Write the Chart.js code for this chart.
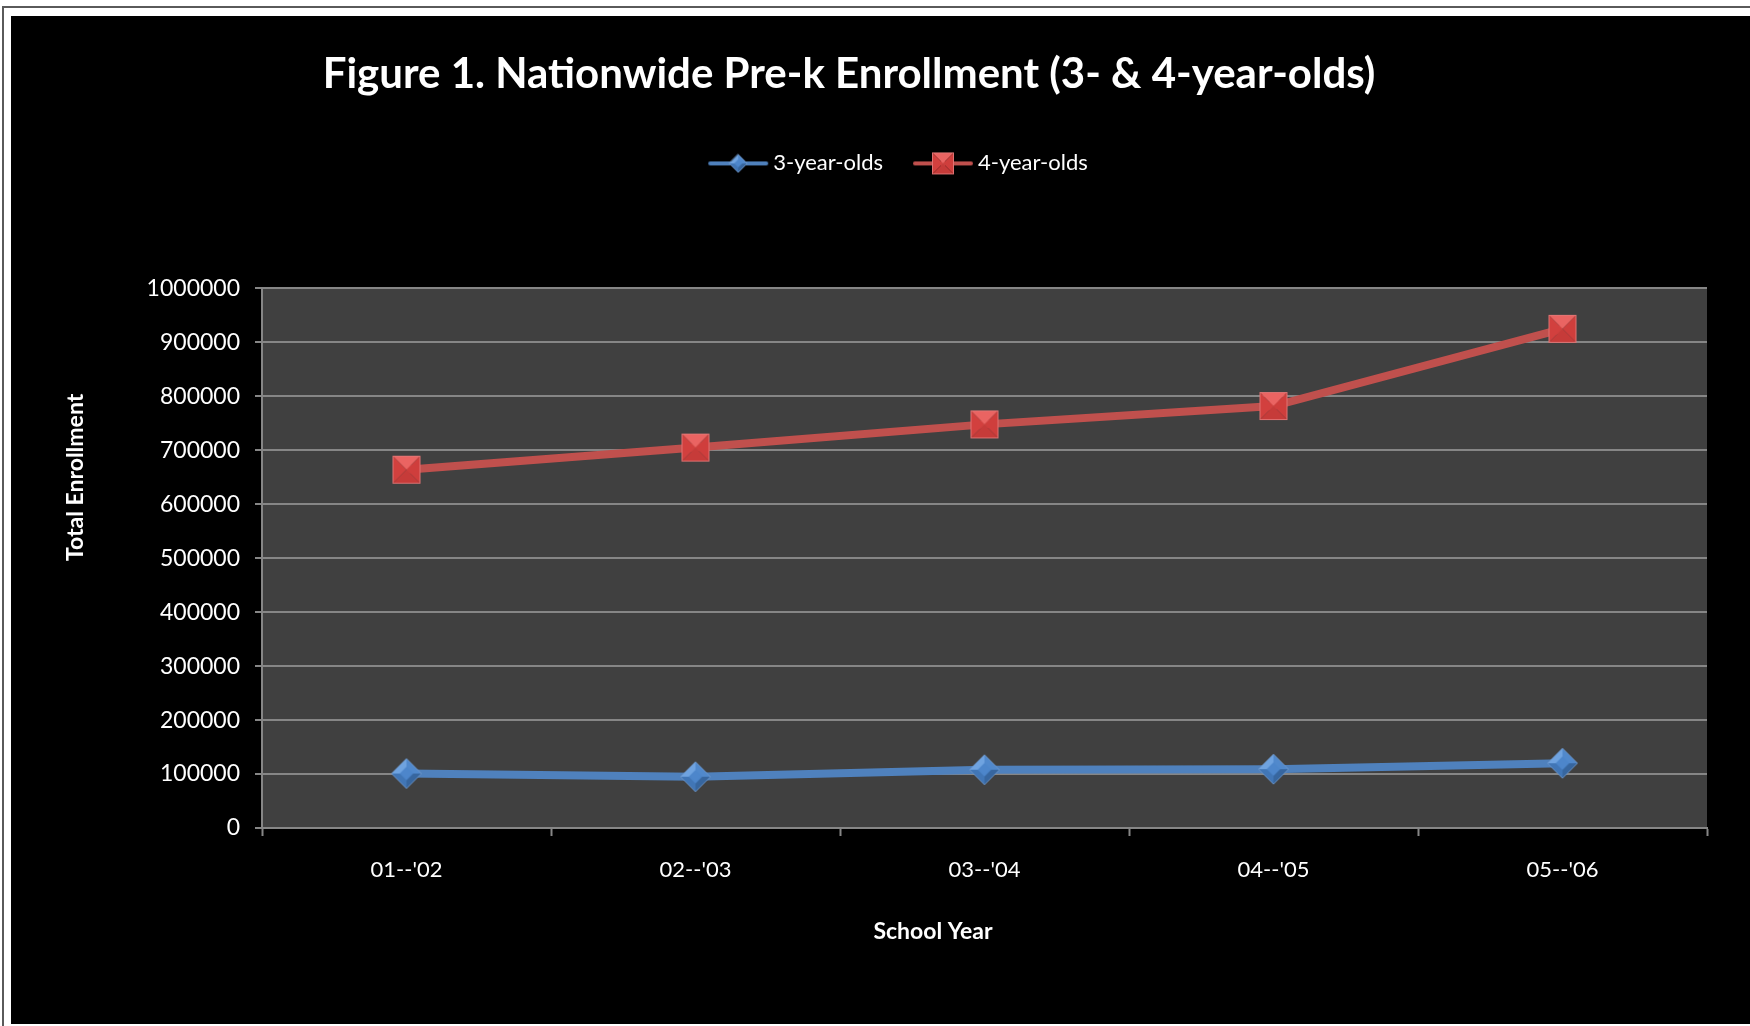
<!DOCTYPE html>
<html>
<head>
<meta charset="utf-8">
<title>Nationwide Pre-k Enrollment</title>
<script src="https://cdn.jsdelivr.net/npm/chart.js@4.4.1/dist/chart.umd.min.js"></script>
<style>
  html, body { margin: 0; padding: 0; background: #fff; width: 1750px; height: 1026px; overflow: hidden; }
  .frame { position: absolute; left: 2px; top: 6px; right: 0; bottom: 0; border-left: 2px solid #5a5a5a; border-top: 2px solid #5a5a5a; }
  .box { position: absolute; left: 11px; top: 16px; width: 1739px; height: 1008px; background: #000; }
</style>
</head>
<body>
<div class="frame"></div>
<div class="box"><canvas id="enroll"></canvas></div>
<script>
var schoolYears = ["01--'02", "02--'03", "03--'04", "04--'05", "05--'06"];
var threeYearOlds = [101000, 95000, 108000, 109000, 120000];
var fourYearOlds = [664000, 705000, 748000, 782000, 925000];
var yTicks = [0, 100000, 200000, 300000, 400000, 500000, 600000, 700000, 800000, 900000, 1000000];

var chartTitle = "Figure 1. Nationwide Pre-k Enrollment (3- & 4-year-olds)";
var xTitle = "School Year";
var yTitle = "Total Enrollment";

var BLUE = "#4f81bd";
var RED = "#c0504d";
var FONT = "Lato, 'Open Sans', sans-serif";

// little beveled markers, drawn once and used as point images
function tri(g, pts, color) {
  g.beginPath();
  g.moveTo(pts[0][0], pts[0][1]);
  for (var i = 1; i < pts.length; i++) g.lineTo(pts[i][0], pts[i][1]);
  g.closePath();
  g.fillStyle = color;
  g.fill();
}

function drawSquare(g, cx, cy, s) {
  var h = s / 2, l = cx - h, t = cy - h, r = cx + h, b = cy + h;
  tri(g, [[l, t], [r, t], [cx, cy]], "#ea6462");
  tri(g, [[l, t], [cx, cy], [l, b]], "#d2403e");
  tri(g, [[r, t], [r, b], [cx, cy]], "#cf3e3c");
  tri(g, [[l, b], [r, b], [cx, cy]], "#c63b39");
  g.strokeStyle = "rgba(225,120,120,0.9)";
  g.lineWidth = 1;
  g.strokeRect(l + 0.5, t + 0.5, s - 1, s - 1);
}

function drawDiamond(g, cx, cy, s) {
  var h = s / 2;
  var top = [cx, cy - h], right = [cx + h, cy], bot = [cx, cy + h], left = [cx - h, cy], mid = [cx, cy];
  tri(g, [left, top, mid], "#6fa3e0");
  tri(g, [top, right, mid], "#5189cc");
  tri(g, [left, bot, mid], "#4176b6");
  tri(g, [bot, right, mid], "#37669f");
  var k = h * 0.45;
  tri(g, [[cx, cy - k], [cx + k, cy], [cx, cy + k], [cx - k, cy]], "#4d86cb");
  g.beginPath();
  g.moveTo(top[0], top[1]); g.lineTo(right[0], right[1]); g.lineTo(bot[0], bot[1]); g.lineTo(left[0], left[1]);
  g.closePath();
  g.strokeStyle = "rgba(110,150,200,0.9)";
  g.lineWidth = 1;
  g.stroke();
}

function marker(kind, s) {
  var c = document.createElement("canvas");
  c.width = s + 2; c.height = s + 2;
  var g = c.getContext("2d");
  if (kind === "square") drawSquare(g, c.width / 2, c.height / 2, s);
  else drawDiamond(g, c.width / 2, c.height / 2, s);
  return c;
}

// legend key: short line with the marker in the middle
function legendIcon(kind, color, s) {
  var c = document.createElement("canvas");
  c.width = 62; c.height = 26;
  var g = c.getContext("2d");
  g.strokeStyle = color;
  g.lineWidth = 4;
  g.lineCap = "round";
  g.beginPath();
  g.moveTo(3, 13); g.lineTo(59, 13);
  g.stroke();
  if (kind === "square") drawSquare(g, 31, 13, s);
  else drawDiamond(g, 31, 13, s);
  return c;
}

var legendIcons = [legendIcon("diamond", BLUE, 18), legendIcon("square", RED, 22)];

Chart.defaults.font.family = FONT;
Chart.defaults.color = "#ffffff";

// dark fill behind the plot area
var plotBg = {
  id: "plotBg",
  beforeDraw: function (chart) {
    var a = chart.chartArea, ctx = chart.ctx;
    ctx.save();
    ctx.fillStyle = "#404040";
    ctx.fillRect(a.left, a.top, a.right - a.left, a.bottom - a.top);
    ctx.restore();
  }
};

// title a little left, legend a little right
var headerNudge = {
  id: "headerNudge",
  afterLayout: function (chart) {
    chart.titleBlock.left -= 10;
    chart.titleBlock.right -= 10;
    chart.legend.left += 42;
    chart.legend.right += 42;
  }
};

// axis titles
var axisTitles = {
  id: "axisTitles",
  afterDraw: function (chart) {
    var a = chart.chartArea, ctx = chart.ctx;
    ctx.save();
    ctx.fillStyle = "#ffffff";
    ctx.font = "bold 23px " + FONT;
    ctx.textAlign = "center";
    ctx.textBaseline = "middle";
    ctx.fillText(xTitle, a.left + 671, a.bottom + 104);
    ctx.translate(a.left - 186, a.top + 189);
    ctx.rotate(-Math.PI / 2);
    ctx.fillText(yTitle, 0, 0);
    ctx.restore();
  }
};

var ctx = document.getElementById("enroll").getContext("2d");

var data = {
  labels: schoolYears,
  datasets: [
    {
      label: "3-year-olds",
      data: threeYearOlds,
      borderColor: BLUE,
      borderWidth: 8,
      pointStyle: marker("diamond", 30),
      pointRadius: 15,
      tension: 0
    },
    {
      label: "4-year-olds",
      data: fourYearOlds,
      borderColor: RED,
      borderWidth: 8,
      pointStyle: marker("square", 28),
      pointRadius: 15,
      tension: 0
    }
  ]
};

var options = {
  responsive: true,
  maintainAspectRatio: false,
  animation: false,
  layout: { padding: { left: 0, right: 43, top: 0, bottom: 0 } },
  plugins: {
    title: {
      display: true,
      text: chartTitle,
      color: "#ffffff",
      font: { size: 42, weight: "bold", lineHeight: 1.2 },
      padding: { top: 33, bottom: 17 }
    },
    // empty block that keeps the gap between legend and plot
    subtitle: {
      display: true,
      text: "",
      weight: 500,
      font: { size: 10, lineHeight: 1 },
      padding: { top: 94, bottom: 0 }
    },
    legend: {
      position: "top",
      labels: {
        usePointStyle: true,
        pointStyleWidth: 48,
        padding: 36,
        color: "#ffffff",
        font: { size: 22 },
        generateLabels: function (chart) {
          return chart.data.datasets.map(function (ds, i) {
            return {
              text: ds.label,
              fontColor: "#ffffff",
              pointStyle: legendIcons[i],
              fillStyle: "transparent",
              strokeStyle: "transparent",
              lineWidth: 0,
              hidden: false,
              datasetIndex: i
            };
          });
        }
      }
    },
    tooltip: { enabled: false }
  },
  scales: {
    x: {
      offset: true,
      afterFit: function (s) { s.height = 196; },
      grid: {
        offset: true,
        drawOnChartArea: false,
        tickLength: 8,
        tickColor: "#868686",
        tickWidth: 2
      },
      border: { color: "#868686", width: 2 },
      ticks: { color: "#ffffff", font: { size: 22 }, padding: 21 }
    },
    y: {
      min: 0,
      max: 1000000,
      afterFit: function (s) { s.width = 251; },
      afterBuildTicks: function (s) {
        s.ticks = yTicks.map(function (v) { return { value: v }; });
      },
      grid: {
        color: "#868686",
        lineWidth: 2,
        tickLength: 7,
        tickColor: "#868686"
      },
      border: { color: "#868686", width: 2 },
      ticks: {
        color: "#ffffff",
        font: { size: 23 },
        padding: 15,
        callback: function (v) { return String(v); }
      }
    }
  }
};

var enroll = new Chart(ctx, {
  type: "line",
  data: data,
  options: options,
  plugins: [plotBg, headerNudge, axisTitles]
});
</script>
</body>
</html>
